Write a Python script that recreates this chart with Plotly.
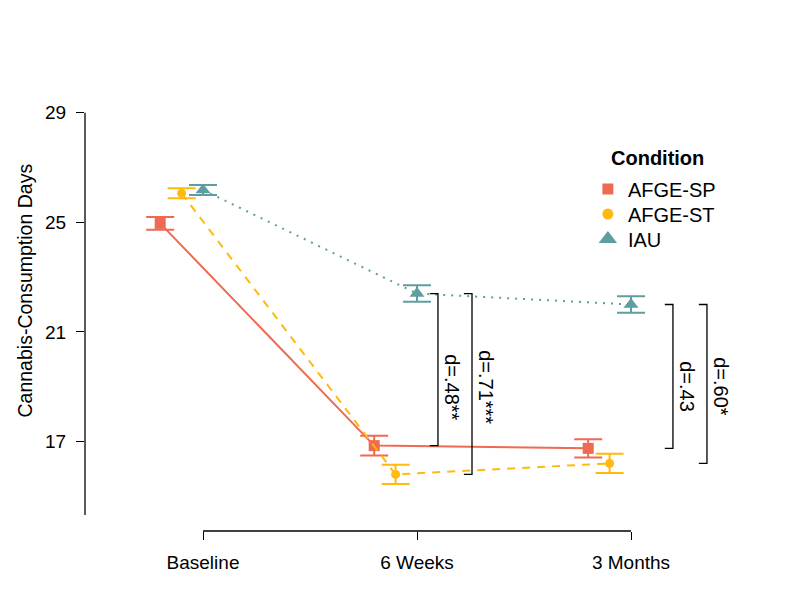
import plotly.graph_objects as go

# ---------------- data ----------------
timepoints = ["Baseline", "6 Weeks", "3 Months"]
groups = ["AFGE-SP", "AFGE-ST", "IAU"]

afge_sp_mean = [24.96, 16.85, 16.75]
afge_sp_se = [0.23, 0.36, 0.33]
afge_st_mean = [26.06, 15.80, 16.20]
afge_st_se = [0.18, 0.35, 0.35]
iau_mean = [26.18, 22.40, 22.00]
iau_se = [0.18, 0.30, 0.30]

y_ticks = [17, 21, 25, 29]
y_title = "Cannabis-Consumption Days"
legend_title = "Condition"

# effect-size comparisons: (timepoint index, compared group, label) vs IAU
effects_time = [1, 1, 2, 2]
effects_group = ["AFGE-SP", "AFGE-ST", "AFGE-SP", "AFGE-ST"]
effects_label = ["d=.48**", "d=.71***", "d=.43", "d=.60*"]

# ---------------- styling ----------------
FONT = "Arial, Liberation Sans, sans-serif"
means = {"AFGE-SP": afge_sp_mean, "AFGE-ST": afge_st_mean, "IAU": iau_mean}
ses = {"AFGE-SP": afge_sp_se, "AFGE-ST": afge_st_se, "IAU": iau_se}
colors = {"AFGE-SP": "#EE6A50", "AFGE-ST": "#FFB90F", "IAU": "#5F9EA0"}
symbols = {"AFGE-SP": "square", "AFGE-ST": "circle", "IAU": "triangle-up"}
msize = {"AFGE-SP": 11, "AFGE-ST": 9, "IAU": 13}
legsize = {"AFGE-SP": 11, "AFGE-ST": 11, "IAU": 16}
dashes = {"AFGE-SP": "solid", "AFGE-ST": "8px,7px", "IAU": "2px,6px"}
offsets = {"AFGE-SP": -0.2, "AFGE-ST": -0.1, "IAU": 0.0}
legend_ids = {"AFGE-SP": "legend", "AFGE-ST": "legend2", "IAU": "legend3"}
legend_y = {"AFGE-SP": 0.7935, "AFGE-ST": 0.7355, "IAU": 0.6775}

xpos = [i + 1 for i in range(len(timepoints))]

fig = go.Figure()
for g in groups:
    fig.add_trace(go.Scatter(
        x=[p + offsets[g] for p in xpos], y=means[g],
        mode="lines+markers",
        line=dict(color=colors[g], width=2, dash=dashes[g]),
        marker=dict(symbol=symbols[g], size=msize[g], color=colors[g]),
        error_y=dict(type="data", array=ses[g], color=colors[g], thickness=2, width=14),
        showlegend=False, hoverinfo="skip",
    ))
for g in groups:
    fig.add_trace(go.Scatter(
        x=[None], y=[None], mode="markers", name=g, legend=legend_ids[g],
        marker=dict(symbol=symbols[g], size=legsize[g], color=colors[g]),
    ))

# brackets and effect-size labels
bracket_x = [2.098, 2.257, 3.196, 3.355]
tick = 0.038
shapes = []
annotations = []
for k in range(len(effects_label)):
    t = effects_time[k]
    y1 = iau_mean[t]
    y2 = means[effects_group[k]][t]
    bx = bracket_x[k]
    shapes.append(dict(type="path", xref="x", yref="y",
                       path=f"M {bx - tick},{y1} L {bx},{y1} L {bx},{y2} L {bx - tick},{y2}",
                       line=dict(color="black", width=1.3)))
    annotations.append(dict(x=bx + 0.068, y=19.0, xref="x", yref="y",
                            text=effects_label[k], textangle=90, showarrow=False,
                            font=dict(family=FONT, size=20, color="black"),
                            xanchor="center", yanchor="middle"))

# axis lines (R-style, spanning only the data extent)
shapes.append(dict(type="line", xref="paper", yref="y", x0=0, x1=0, y0=14.32, y1=29,
                   line=dict(color="black", width=1.3)))
shapes.append(dict(type="line", xref="x", yref="paper", x0=1, x1=3, y0=0, y1=0,
                   line=dict(color="black", width=1.3)))

annotations.append(dict(x=0.7765, y=0.865, xref="paper", yref="paper",
                        text="<b>" + legend_title + "</b>", showarrow=False,
                        xanchor="left", yanchor="middle",
                        font=dict(family=FONT, size=20, color="black")))
annotations.append(dict(x=-0.0889, y=0.558, xref="paper", yref="paper",
                        text=y_title, textangle=-90, showarrow=False,
                        xanchor="center", yanchor="middle",
                        font=dict(family=FONT, size=19.5, color="black")))

leg_common = dict(x=0.745, xanchor="left", yanchor="middle",
                  font=dict(family=FONT, size=20, color="black"),
                  bgcolor="rgba(0,0,0,0)", itemwidth=30)

fig.update_layout(
    width=784, height=584,
    margin=dict(l=77, r=32, t=92, b=61, pad=0),
    paper_bgcolor="white", plot_bgcolor="white",
    font=dict(family=FONT, size=19, color="black"),
    shapes=shapes, annotations=annotations,
    legend=dict(y=legend_y["AFGE-SP"], **leg_common),
    legend2=dict(y=legend_y["AFGE-ST"], **leg_common),
    legend3=dict(y=legend_y["IAU"], **leg_common),
    xaxis=dict(range=[0.4486, 3.6028], tickvals=xpos, ticktext=timepoints,
               showgrid=False, zeroline=False, showline=False,
               ticks="outside", ticklen=8, tickwidth=1.3, tickcolor="black",
               ticklabelstandoff=6,
               tickfont=dict(family=FONT, size=19, color="black")),
    yaxis=dict(range=[13.734, 29.4635], tickvals=y_ticks,
               showgrid=False, zeroline=False, showline=False,
               ticks="outside", ticklen=8, tickwidth=1.3, tickcolor="black",
               ticklabelstandoff=6,
               tickfont=dict(family=FONT, size=19, color="black")),
)

fig.write_html("out.html")
